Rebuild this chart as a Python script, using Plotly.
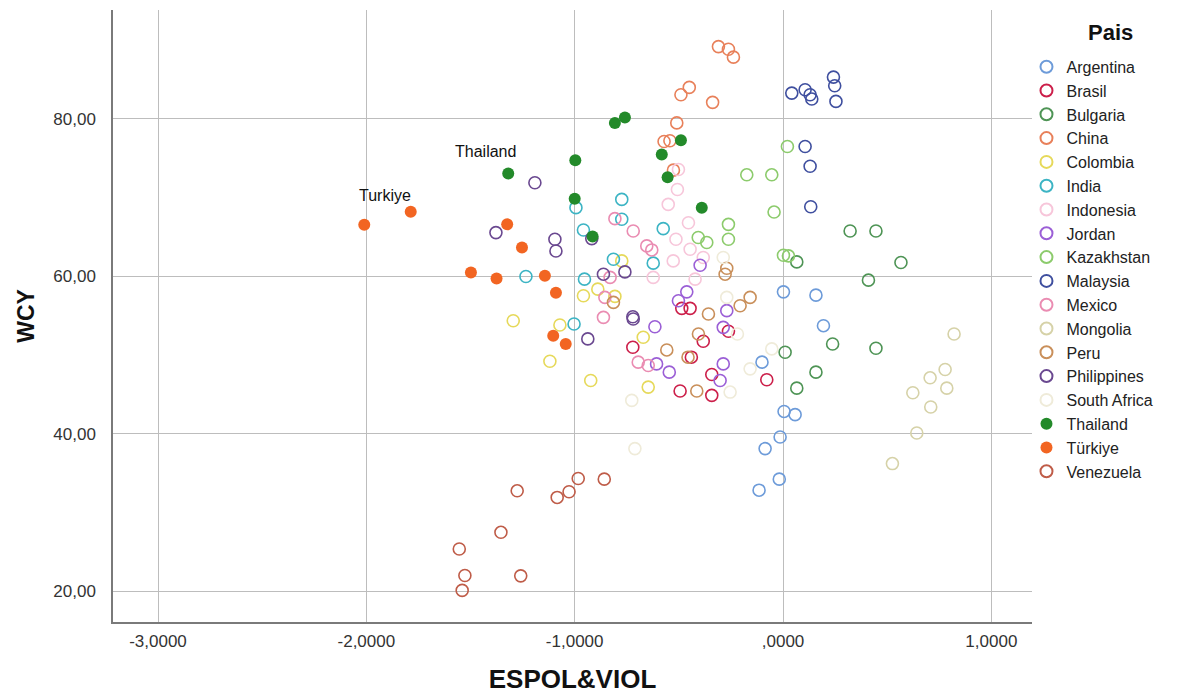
import plotly.graph_objects as go

countries = ["Argentina", "Brasil", "Bulgaria", "China", "Colombia", "India", "Indonesia",
             "Jordan", "Kazakhstan", "Malaysia", "Mexico", "Mongolia", "Peru", "Philippines",
             "South Africa", "Thailand", "Türkiye", "Venezuela"]

colors = {
    "Argentina": "#6d9bd9", "Brasil": "#cc1f4a", "Bulgaria": "#4e9455", "China": "#e8805a",
    "Colombia": "#e6d95a", "India": "#3cb4c4", "Indonesia": "#f7c6da", "Jordan": "#9b5fd6",
    "Kazakhstan": "#8ccb6c", "Malaysia": "#3f4f9f", "Mexico": "#ea8cb2", "Mongolia": "#d6d2a8",
    "Peru": "#c98f5a", "Philippines": "#6a4890", "South Africa": "#efebd9", "Thailand": "#238a2a",
    "Türkiye": "#f26522", "Venezuela": "#bf5c48",
}

filled = ["Thailand", "Türkiye"]

x_argentina = [0.002, 0.158, 0.194, -0.101, 0.005, 0.058, -0.014, -0.086, -0.018, -0.115]
y_argentina = [58.01, 57.59, 53.71, 49.08, 42.82, 42.41, 39.58, 38.10, 34.22, 32.82]

x_brasil = [-0.486, -0.446, -0.383, -0.262, -0.721, -0.342, -0.078, -0.494, -0.342, -0.440]
y_brasil = [55.91, 55.91, 51.73, 53.00, 50.97, 47.51, 46.84, 45.41, 44.86, 49.71]

x_bulgaria = [0.322, 0.446, 0.066, 0.566, 0.410, 0.238, 0.446, 0.010, 0.158, 0.066]
y_bulgaria = [65.74, 65.74, 61.81, 61.73, 59.49, 51.39, 50.84, 50.34, 47.81, 45.78]

x_china = [-0.310, -0.262, -0.238, -0.338, -0.450, -0.490, -0.510, -0.571, -0.543, -0.526]
y_china = [89.15, 88.82, 87.81, 82.07, 83.97, 83.04, 79.46, 77.10, 77.20, 73.46]

x_colombia = [-1.295, -1.071, -1.119, -0.923, -0.958, -0.889, -0.807, -0.671, -0.647, -0.774]
y_colombia = [54.34, 53.80, 49.20, 46.75, 57.51, 58.35, 57.43, 52.24, 45.91, 61.94]

x_india = [-0.774, -0.774, -0.575, -0.814, -0.623, -1.234, -0.994, -0.958, -0.953, -1.003]
y_india = [69.75, 67.22, 66.03, 62.15, 61.65, 59.96, 68.70, 65.86, 59.62, 53.92]

x_indonesia = [-0.507, -0.551, -0.454, -0.514, -0.446, -0.527, -0.383, -0.422, -0.502, -0.623]
y_indonesia = [71.00, 69.11, 66.78, 64.68, 63.42, 61.94, 62.37, 59.62, 73.54, 59.84]

x_jordan = [-0.398, -0.462, -0.502, -0.270, -0.615, -0.607, -0.546, -0.287, -0.287, -0.302]
y_jordan = [61.39, 58.01, 56.87, 55.62, 53.58, 48.86, 47.81, 53.50, 48.86, 46.75]

x_kazakhstan = [0.021, -0.174, -0.054, -0.043, -0.262, -0.262, -0.407, -0.366, 0.002, 0.026]
y_kazakhstan = [76.46, 72.87, 72.87, 68.14, 66.58, 64.68, 64.91, 64.27, 62.66, 62.57]

x_malaysia = [0.042, 0.106, 0.130, 0.138, 0.242, 0.248, 0.254, 0.106, 0.130, 0.133]
y_malaysia = [83.25, 83.67, 83.04, 82.49, 85.28, 84.18, 82.19, 76.46, 73.96, 68.82]

x_mexico = [-0.807, -0.719, -0.654, -0.630, -0.830, -0.855, -0.862, -0.695, -0.647]
y_mexico = [67.30, 65.74, 63.84, 63.33, 59.84, 57.30, 54.77, 49.08, 48.65]

x_mongolia = [0.821, 0.778, 0.706, 0.786, 0.623, 0.709, 0.642, 0.525]
y_mongolia = [52.66, 48.14, 47.09, 45.78, 45.19, 43.38, 40.08, 36.20]

x_peru = [-0.270, -0.278, -0.814, -0.158, -0.206, -0.358, -0.558, -0.406, -0.414, -0.456]
y_peru = [61.01, 60.25, 56.67, 57.30, 56.24, 55.19, 50.63, 52.66, 45.41, 49.71]

x_philippines = [-1.191, -1.378, -1.095, -1.090, -0.918, -0.862, -0.759, -0.721, -0.719, -0.937]
y_philippines = [71.86, 65.53, 64.68, 63.20, 64.77, 60.25, 60.54, 54.85, 54.56, 52.03]

x_south_africa = [-0.726, -0.711, -0.254, -0.158, -0.054, -0.287, -0.270, -0.219]
y_south_africa = [44.22, 38.10, 45.28, 48.23, 50.76, 62.37, 57.30, 52.66]

x_thailand = [-1.319, -0.997, -1.000, -0.807, -0.759, -0.490, -0.582, -0.554, -0.390, -0.914]
y_thailand = [73.04, 74.72, 69.84, 79.46, 80.16, 77.25, 75.44, 72.57, 68.70, 65.03]

x_turkiye = [-2.010, -1.787, -1.324, -1.253, -1.498, -1.375, -1.143, -1.090, -1.103, -1.043]
y_turkiye = [66.54, 68.19, 66.58, 63.63, 60.47, 59.71, 60.04, 57.89, 52.44, 51.39]

x_venezuela = [-0.983, -0.858, -1.027, -1.084, -1.276, -1.354, -1.554, -1.527, -1.259, -1.540]
y_venezuela = [34.30, 34.22, 32.62, 31.90, 32.74, 27.47, 25.35, 21.99, 21.94, 20.09]

series = {
    "Argentina": (x_argentina, y_argentina), "Brasil": (x_brasil, y_brasil),
    "Bulgaria": (x_bulgaria, y_bulgaria), "China": (x_china, y_china),
    "Colombia": (x_colombia, y_colombia), "India": (x_india, y_india),
    "Indonesia": (x_indonesia, y_indonesia), "Jordan": (x_jordan, y_jordan),
    "Kazakhstan": (x_kazakhstan, y_kazakhstan), "Malaysia": (x_malaysia, y_malaysia),
    "Mexico": (x_mexico, y_mexico), "Mongolia": (x_mongolia, y_mongolia),
    "Peru": (x_peru, y_peru), "Philippines": (x_philippines, y_philippines),
    "South Africa": (x_south_africa, y_south_africa), "Thailand": (x_thailand, y_thailand),
    "Türkiye": (x_turkiye, y_turkiye), "Venezuela": (x_venezuela, y_venezuela),
}

x_tickvals = [-3, -2, -1, 0, 1]
x_ticktext = ["-3,0000", "-2,0000", "-1,0000", ",0000", "1,0000"]
y_tickvals = [20, 40, 60, 80]
y_ticktext = ["20,00", "40,00", "60,00", "80,00"]

label_names = ["Thailand", "Turkiye"]
label_x = [-1.426, -1.911]
label_y = [75.82, 70.25]

FONT = "Liberation Sans, Arial, sans-serif"

fig = go.Figure()
for c in countries:
    xs, ys = series[c]
    if c in filled:
        marker = dict(symbol="circle", size=12, color=colors[c], line=dict(width=0))
    else:
        marker = dict(symbol="circle-open", size=12, color=colors[c], line=dict(width=1.6, color=colors[c]))
    fig.add_trace(go.Scatter(x=xs, y=ys, mode="markers", name=c, marker=marker))

for t, lx, ly in zip(label_names, label_x, label_y):
    fig.add_annotation(x=lx, y=ly, text=t, showarrow=False,
                       font=dict(family=FONT, size=16, color="#111111"))

# legend title placed as paper annotation
fig.add_annotation(x=1.085, y=0.9625, xref="paper", yref="paper", text="<b>Pais</b>",
                   showarrow=False, xanchor="center", yanchor="middle",
                   font=dict(family=FONT, size=22, color="#111111"))

fig.update_layout(
    width=1189, height=686,
    margin=dict(l=105, r=165, t=2, b=70),
    paper_bgcolor="white", plot_bgcolor="white",
    separators=",.",
    font=dict(family=FONT, size=13, color="#222222"),
    showlegend=True,
    legend=dict(
        x=0.994, xanchor="left", y=0.935, yanchor="top",
        font=dict(family=FONT, size=16, color="#222222"),
        itemsizing="constant", bgcolor="rgba(0,0,0,0)",
        tracegroupgap=0,
    ),
    xaxis=dict(
        range=[-3.216, 1.195], tickvals=x_tickvals, ticktext=x_ticktext,
        showgrid=True, gridcolor="#bdbdbd", gridwidth=1, zeroline=False,
        showline=True, linecolor="#7a7a7a", linewidth=1.5, ticks="",
        ticklabelstandoff=3,
        tickfont=dict(family=FONT, size=17, color="#333333"),
        title=dict(text="<b>ESPOL&VIOL</b>", font=dict(family=FONT, size=26, color="#111111"), standoff=23),
    ),
    yaxis=dict(
        range=[16.08, 93.8], tickvals=y_tickvals, ticktext=y_ticktext,
        showgrid=True, gridcolor="#bdbdbd", gridwidth=1, zeroline=False,
        showline=True, linecolor="#7a7a7a", linewidth=1.5, ticks="",
        ticklabelstandoff=12,
        tickfont=dict(family=FONT, size=17, color="#333333"),
        title=dict(text="<b>WCY</b>", font=dict(family=FONT, size=23, color="#111111"), standoff=12),
    ),
)

fig.write_html("out.html")
